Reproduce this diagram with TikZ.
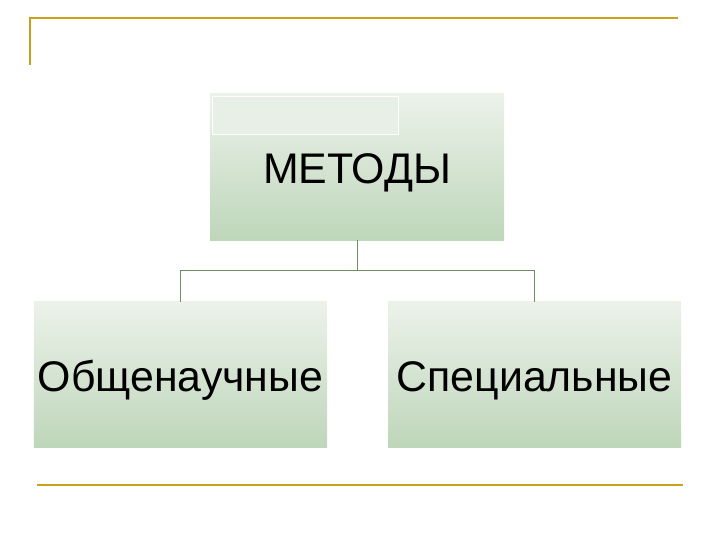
\documentclass[tikz,border=0pt]{standalone}
\usepackage{fontspec}
\setmainfont{Liberation Sans}
\begin{document}
\begin{tikzpicture}[x=1bp,y=-1bp,
  gold/.style={draw={rgb,255:red,200;green,160;blue,30},line width=1.5bp},
  conn/.style={draw={rgb,255:red,110;green,140;blue,100},line width=1bp},
  txt/.style={font=\fontsize{43}{48}\selectfont,anchor=base,inner sep=0pt},
  gbox/.style={top color={rgb,255:red,236;green,242;blue,234},bottom color={rgb,255:red,190;green,214;blue,186},draw=none,minimum width=293bp,minimum height=145bp,inner sep=0pt}]
\useasboundingbox (0,0) rectangle (720,540);
\draw[gold] (30,65) -- (30,18) -- (678,18);
\draw[gold] (37,485) -- (683,485);
\node[gbox,minimum width=294bp,minimum height=146bp] (top) at (357,167) {};
\node[draw=white,line width=1bp,fill={rgb,255:red,232;green,239;blue,230},minimum width=186bp,minimum height=38bp,inner sep=0pt,anchor=north west] (tab) at (212,96) {};
\node[txt] (ttl) at (357,184) {МЕТОДЫ};
\node[gbox] (l) at (180.5,374.5) {};
\node[gbox] (r) at (534.5,374.5) {};
\node[txt] (lt) at (180.5,391) {Общенаучные};
\node[txt] (rt) at (534.5,391) {Специальные};
\coordinate (m) at (357,270);
\draw[conn] (top.south) -- (m);
\draw[conn] (l.north) -- (l.north |- m) -- (r.north |- m) -- (r.north);
\end{tikzpicture}
\end{document}
